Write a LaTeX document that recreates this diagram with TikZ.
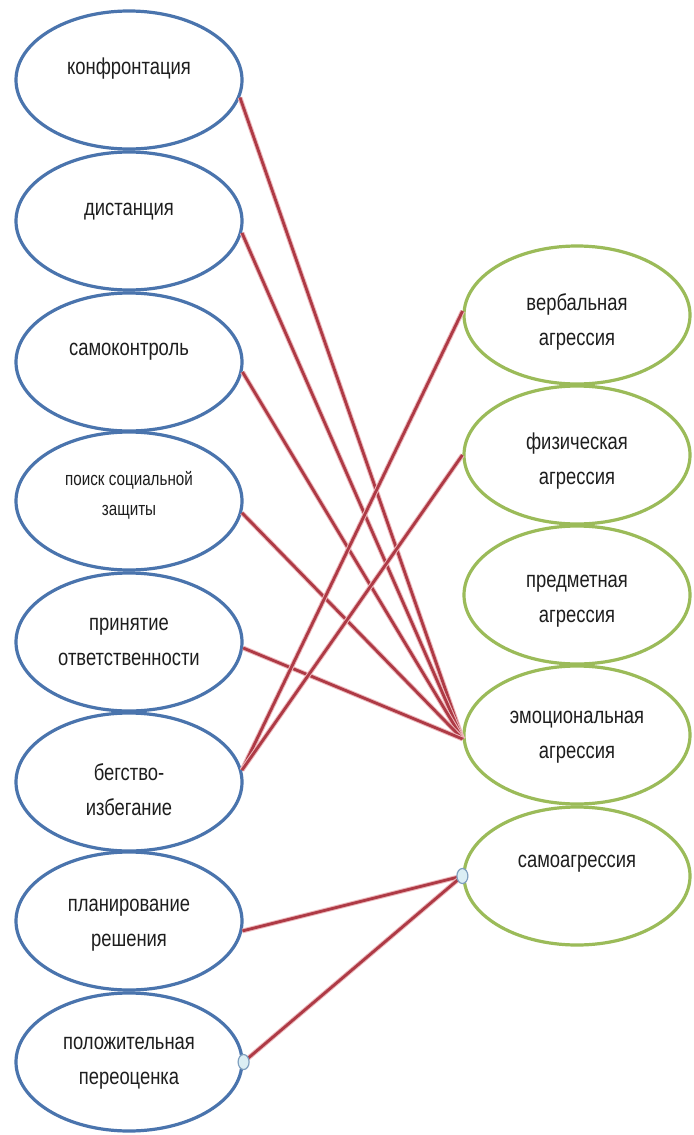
\documentclass[tikz,border=0pt]{standalone}
\usepackage{fontspec}
\newfontfamily\df[FakeStretch=0.8]{Liberation Sans}
\usetikzlibrary{shapes.geometric}
\definecolor{eblue}{HTML}{4A74AD}
\definecolor{egreen}{HTML}{9BBB59}
\definecolor{lred}{HTML}{AE3A45}
\definecolor{lhalo}{HTML}{EDB8BC}
\definecolor{dotfill}{HTML}{DBEEF4}
\definecolor{dotdraw}{HTML}{7F9FBF}
\definecolor{tgray}{HTML}{1E1E1E}
\begin{document}
\begin{tikzpicture}[x=0.5pt,y=-0.5pt,
 lell/.style={ellipse, draw=eblue, line width=1.6pt, fill=white, minimum width=113pt, minimum height=69pt, inner sep=0pt},
 rell/.style={ellipse, draw=egreen, line width=1.6pt, fill=white, minimum width=113pt, minimum height=69pt, inner sep=0pt},
 lbl/.style={text=tgray, align=center, font=\df\fontsize{11.5}{17.5}\selectfont, inner sep=0pt},
 lblsm/.style={lbl, font=\df\fontsize{9.5}{15}\selectfont},
 link/.style={draw=lred, line width=1.4pt, preaction={draw=lhalo, line width=2.4pt}},
 joint/.style={ellipse, draw=dotdraw, fill=dotfill, line width=0.6pt, minimum width=5.5pt, minimum height=7.5pt, inner sep=0pt}]
\useasboundingbox (0,0) rectangle (694,1135);
\fill[white] (0,0) rectangle (694,1135);
% left ellipses
\node[lell] (l1) at (129,80) {};
\node[lell] (l2) at (129,221) {};
\node[lell] (l3) at (129,362) {};
\node[lell] (l4) at (129,501) {};
\node[lell] (l5) at (129,642) {};
\node[lell] (l6) at (129,782) {};
\node[lell] (l7) at (129,921) {};
\node[lell] (l8) at (129,1062) {};
% right ellipses
\node[rell] (r1) at (577,315) {};
\node[rell] (r2) at (577,455) {};
\node[rell] (r3) at (577,595) {};
\node[rell] (r4) at (577,735) {};
\node[rell] (r5) at (577,876) {};
% labels
\node[lbl] (t1) at (129,69) {конфронтация};
\node[lbl] (t2) at (129,212) {дистанция};
\node[lbl] (t3) at (129,352) {самоконтроль};
\node[lblsm] (t4) at (129,495) {поиск социальной\\защиты};
\node[lbl] (t5) at (129,642) {принятие\\ответственности};
\node[lbl] (t6) at (129,790) {бегство-\\избегание};
\node[lbl] (t7) at (129,925) {планирование\\решения};
\node[lbl] (t8) at (129,1063) {положительная\\переоценка};
\node[lbl] (u1) at (577,322) {вербальная\\агрессия};
\node[lbl] (u2) at (577,461) {физическая\\агрессия};
\node[lbl] (u3) at (577,601) {предметная\\агрессия};
\node[lbl] (u4) at (577,737) {эмоциональная\\агрессия};
\node[lbl] (u5) at (577,864) {самоагрессия};
% links
\draw[link] (l1.-9) -- (r4.182);
\draw[link] (l2.-6) -- (r4.182);
\draw[link] (l3.-5.5) -- (r4.182);
\draw[link] (l4.-6.5) -- (r4.182);
\draw[link] (l5.-3) -- (r4.182);
\draw[link] (l6.6) -- (r1.178);
\draw[link] (l6.6) -- (r2.180);
\draw[link] (l7.-5.5) -- (r5.west);
\draw[link] (l8.east) -- (r5.west);
\node[joint] (j1) at (r5.west) {};
\node[joint] (j2) at (l8.east) {};
\end{tikzpicture}
\end{document}
